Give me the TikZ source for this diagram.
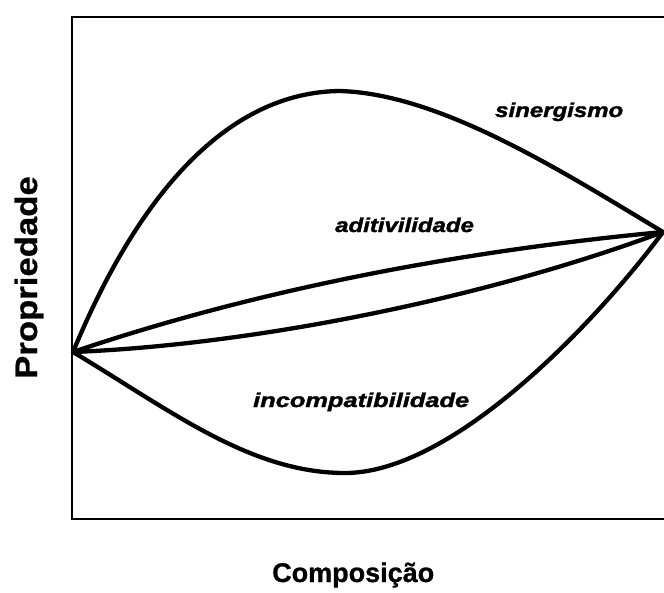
\documentclass[tikz,border=0pt]{standalone}
\usepackage{fontspec}
\setmainfont{Liberation Sans}[BoldItalicFeatures={FakeBold=1.5},BoldFeatures={FakeBold=0.8}]
\begin{document}
\begin{tikzpicture}[x=1pt,y=-1pt,
  curve/.style={line width=4.3pt, line join=round, line cap=round},
  frame/.style={line width=2.3pt},
  lbl/.style={font=\fontsize{20}{24}\selectfont\bfseries\itshape, inner sep=0pt},
  axlbl/.style={inner sep=0pt}]
\useasboundingbox (0,0) rectangle (664,592);
\draw[frame] (670,17) -- (72,17) -- (72,519) -- (670,519);
\coordinate (L) at (73,352);
\coordinate (R) at (663,232);
% sinergismo
\draw[curve] (L) .. controls (140,190) and (230,92) .. (340,91)
  .. controls (440,94) and (560,170) .. (R);
% aditividade (upper)
\draw[curve] (L) .. controls (250,292) and (450,252) .. (R);
% aditividade (lower)
\draw[curve] (L) .. controls (250,345) and (480,300) .. (R);
% incompatibilidade
\draw[curve] (L) .. controls (170,410) and (250,473) .. (345,473)
  .. controls (450,473) and (590,330) .. (R);
\node[lbl, anchor=base west] (sin) at (495,117) {\scalebox{1.2}[1]{sinergismo}};
\node[lbl, anchor=base west] (adi) at (335,232) {\scalebox{1.2}[1]{aditivilidade}};
\node[lbl, anchor=base west] (inc) at (253,407) {\scalebox{1.27}[1]{incompatibilidade}};
\node[axlbl, anchor=base west, font=\fontsize{27}{30}\selectfont\bfseries] (xl) at (272,582) {Composição};
\node[axlbl, rotate=90, anchor=base west, font=\fontsize{31}{34}\selectfont\bfseries] (yl) at (37,379) {\scalebox{1.12}[1]{Propriedade}};
\end{tikzpicture}
\end{document}
